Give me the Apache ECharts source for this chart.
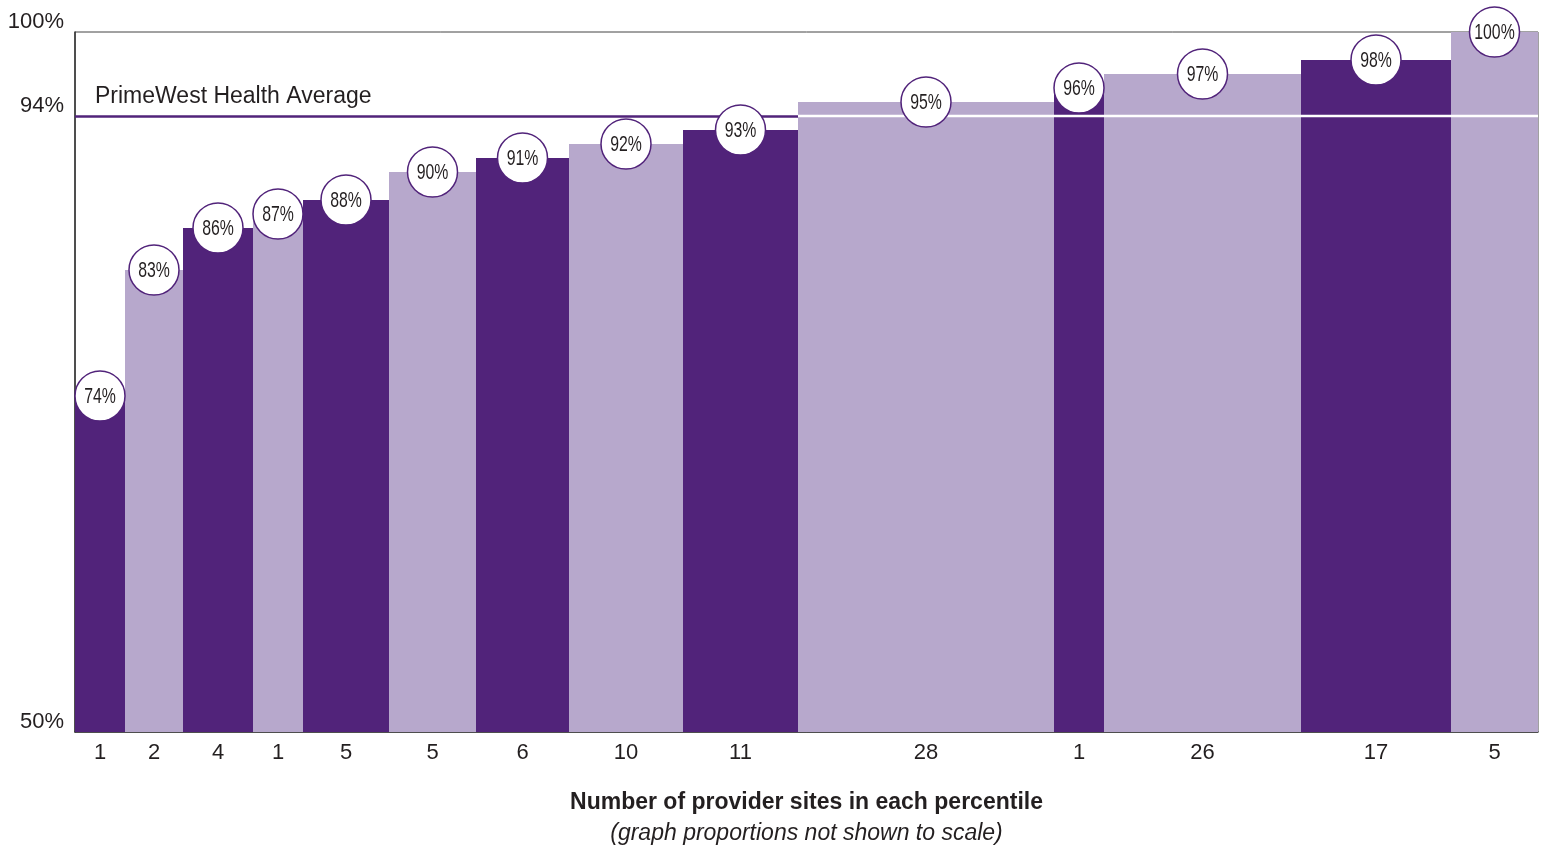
<!DOCTYPE html>
<html>
<head>
<meta charset="utf-8">
<title>Provider sites by percentile</title>
<script src="https://cdn.jsdelivr.net/npm/echarts@6/dist/echarts.min.js"></script>
<style>
  html, body { margin: 0; padding: 0; background: #fff; }
  #chart { width: 1543px; height: 846px; }
</style>
</head>
<body>
<div id="chart"></div>
<script>
// Number of provider sites in each percentile group
const siteCounts = [1, 2, 4, 1, 5, 5, 6, 10, 11, 28, 1, 26, 17, 5];
// Percentile score for each group (%)
const scores = [74, 83, 86, 87, 88, 90, 91, 92, 93, 95, 96, 97, 98, 100];
// Display width of each column (graph proportions are not to scale)
const columnWidths = [50, 58, 70, 50, 86, 87, 93, 114, 115, 256, 50, 197, 150, 87];
// Health plan average (%)
const averageScore = 94;
const averageLabel = 'PrimeWest Health Average';
// Y-axis tick labels
const yTicks = [50, 94, 100];

const DARK = '#51237a';
const LIGHT = '#b7a8cc';
const TEXT = '#231f20';
const SANS = 'Liberation Sans, Arial, Helvetica, sans-serif';

// column extents along the x value axis
const starts = [];
const centers = [];
let acc = 0;
columnWidths.forEach(function (w) {
  starts.push(acc);
  centers.push(acc + w / 2);
  acc += w;
});
const total = acc;

const columnData = scores.map(function (v, i) {
  return [starts[i], starts[i] + columnWidths[i], v, i];
});
const bubbleData = scores.map(function (v, i) {
  return [centers[i], v];
});

const chart = echarts.init(document.getElementById('chart'), null, { renderer: 'canvas' });

chart.setOption({
  animation: false,
  backgroundColor: '#fff',
  grid: {
    left: 75, right: 5, top: 32, bottom: 114,
    outerBoundsMode: 'none',
    containLabel: false,
    show: true, borderColor: '#444', borderWidth: 1, backgroundColor: 'transparent'
  },
  xAxis: {
    type: 'value',
    min: 0,
    max: total,
    splitLine: { show: false },
    axisTick: { show: false },
    axisLine: { show: true, lineStyle: { color: '#333', width: 1.5 } },
    axisLabel: {
      customValues: centers,
      margin: 10,
      fontFamily: SANS,
      fontSize: 22,
      color: TEXT,
      formatter: function (val) {
        let best = 0;
        centers.forEach(function (c, i) {
          if (Math.abs(c - val) < Math.abs(centers[best] - val)) best = i;
        });
        return String(siteCounts[best]);
      }
    },
    name: '{a|Number of provider sites in each percentile}\n{b|(graph proportions not shown to scale)}',
    nameLocation: 'middle',
    nameGap: 55,
    nameTextStyle: {
      rich: {
        a: { fontFamily: SANS, fontSize: 23, fontWeight: 'bold', color: TEXT, lineHeight: 31 },
        b: { fontFamily: SANS, fontSize: 23, fontStyle: 'italic', color: TEXT, lineHeight: 31 }
      }
    }
  },
  yAxis: {
    type: 'value',
    min: 50,
    max: 100,
    splitLine: { show: false },
    axisTick: { show: false },
    axisLine: { show: true, lineStyle: { color: '#333', width: 1.5 } },
    axisLabel: {
      customValues: yTicks,
      formatter: '{value}%',
      margin: 11,
      verticalAlign: 'bottom',
      lineHeight: 20,
      fontFamily: SANS,
      fontSize: 22,
      color: TEXT
    }
  },
  series: [
    {
      // percentile columns, with the average line beneath them
      type: 'custom',
      z: 2,
      silent: true,
      encode: { x: [0, 1], y: 2 },
      data: columnData,
      renderItem: function (params, api) {
        const x0 = api.value(0);
        const x1 = api.value(1);
        const v = api.value(2);
        const idx = api.value(3);
        const topLeft = api.coord([x0, v]);
        const bottomRight = api.coord([x1, 50]);
        const children = [{
          type: 'rect',
          shape: {
            x: topLeft[0], y: topLeft[1],
            width: bottomRight[0] - topLeft[0],
            height: bottomRight[1] - topLeft[1]
          },
          style: { fill: idx % 2 === 0 ? DARK : LIGHT }
        }];
        if (v > averageScore) {
          // where a column rises past the average, the line shows through in white
          const ay = api.coord([x0, averageScore])[1];
          children.push({
            type: 'line',
            shape: { x1: topLeft[0], y1: ay, x2: bottomRight[0], y2: ay },
            style: { stroke: '#fff', lineWidth: 2.5 }
          });
        }
        return { type: 'group', children: children };
      },
      markLine: {
        z: 1,
        silent: true,
        symbol: ['none', 'none'],
        lineStyle: { color: DARK, width: 2.5, type: 'solid' },
        label: {
          show: true,
          position: 'insideStartTop',
          distance: [20, 8],
          formatter: averageLabel,
          fontFamily: SANS,
          fontSize: 23,
          color: TEXT
        },
        data: [{ yAxis: averageScore }]
      }
    },
    {
      // value bubbles on top of each column
      type: 'custom',
      z: 5,
      silent: true,
      clip: false,
      encode: { x: 0, y: 1 },
      data: bubbleData,
      renderItem: function (params, api) {
        const c = api.coord([api.value(0), api.value(1)]);
        return {
          type: 'group',
          children: [
            {
              type: 'circle',
              shape: { cx: c[0], cy: c[1], r: 25 },
              style: { fill: '#fff', stroke: DARK, lineWidth: 1.5 }
            },
            {
              type: 'text',
              x: c[0],
              y: c[1] + 1,
              scaleX: 0.72,
              style: {
                x: 0, y: 0,
                text: api.value(1) + '%',
                align: 'center',
                verticalAlign: 'middle',
                fontFamily: SANS,
                fontSize: 22,
                fill: TEXT
              }
            }
          ]
        };
      }
    }
  ]
});
</script>
</body>
</html>
